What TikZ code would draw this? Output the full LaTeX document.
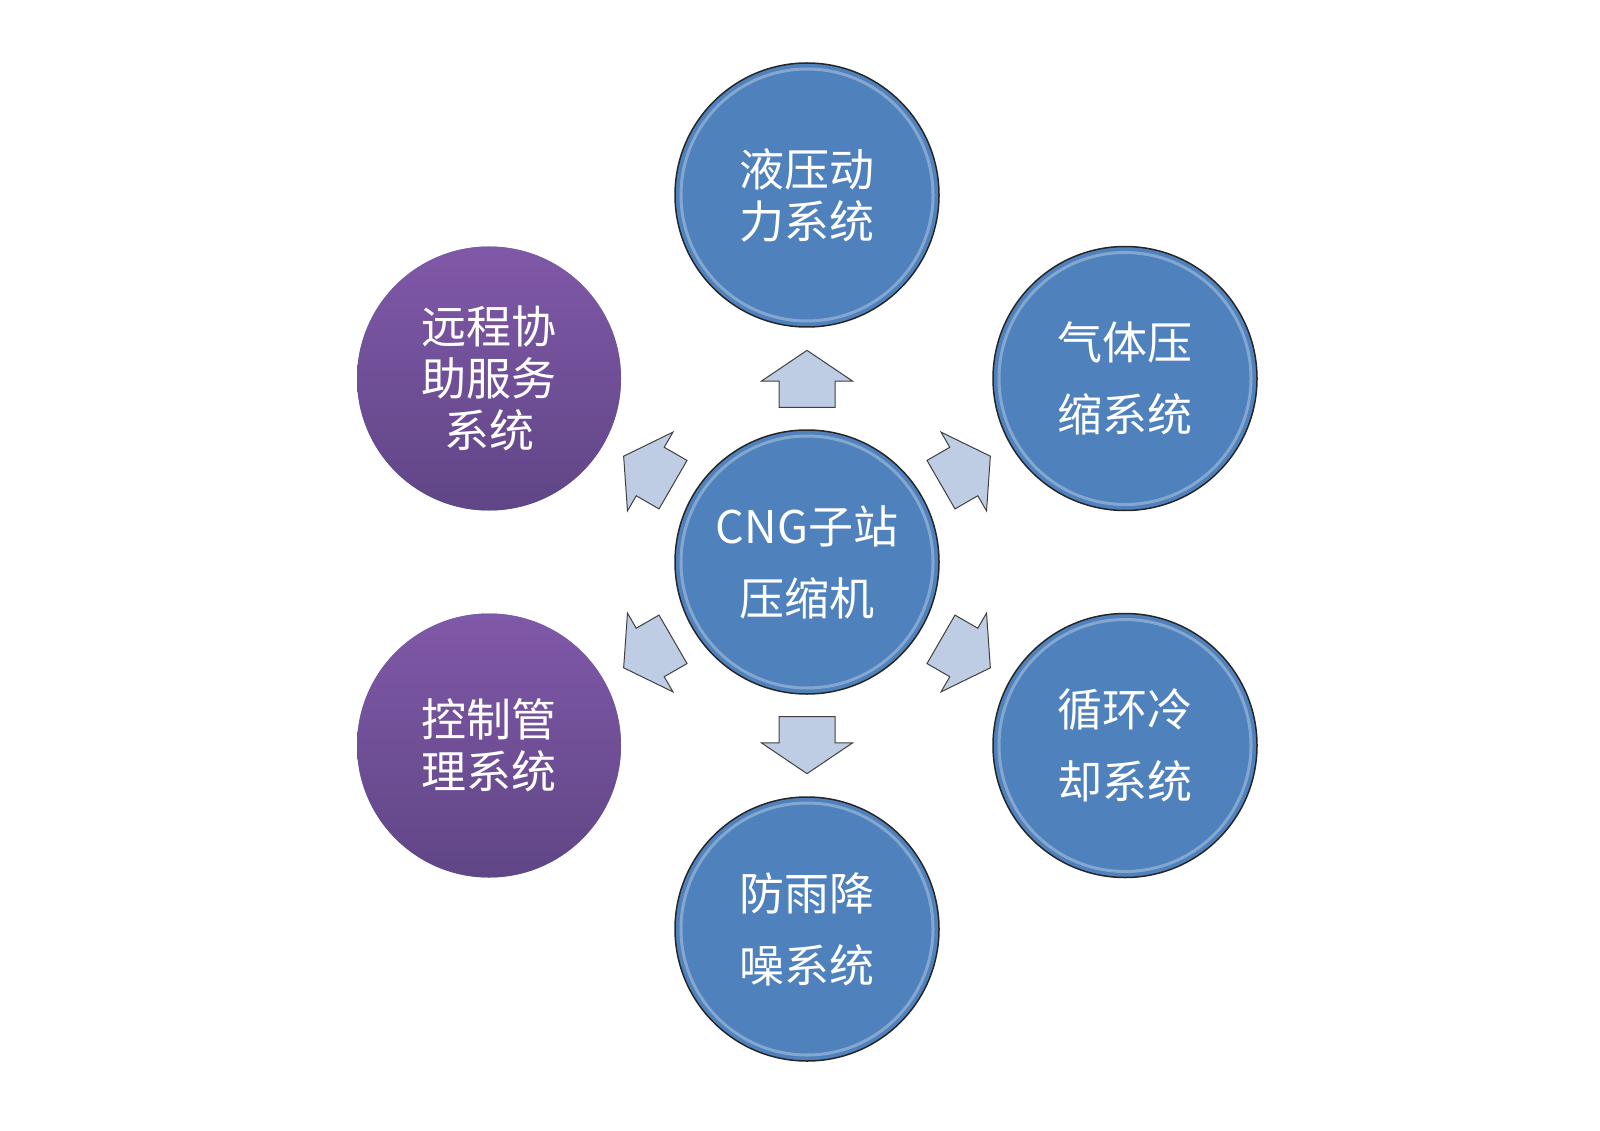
\documentclass[tikz,border=0pt]{standalone}
\usepackage{fontspec}
\newfontfamily\cjk{Noto Sans CJK SC}
\usepackage{tikz}
\usetikzlibrary{shapes.arrows}
\usetikzlibrary{calc}
\usetikzlibrary{positioning}

\definecolor{kugelblau}{RGB}{79,129,189}
\definecolor{lilaoben}{RGB}{128,88,168}
\definecolor{lilaunten}{RGB}{96,70,134}
\definecolor{pfeilblau}{RGB}{190,205,228}

\begin{document}
\begin{tikzpicture}[x=1pt, y=-1pt,
	sys/.style={circle, draw=black!85, line width=1.5pt, fill=kugelblau, minimum size=264pt, inner sep=0pt, text=white, align=center,
		font=\cjk\fontsize{45}{72}\selectfont,
		path picture={\draw[white, opacity=0.3, line width=3pt] (path picture bounding box.center) circle (126pt);}},
	eng/.style={font=\cjk\fontsize{45}{52}\selectfont},
	lila/.style={draw=none, top color=lilaoben, bottom color=lilaunten, path picture={}},
	pfeil/.style={single arrow, draw=black!75, line width=1pt, fill=pfeilblau, minimum height=57pt,
		single arrow head extend=17.5pt, single arrow tip angle=112, inner xsep=0pt, inner ysep=27.5pt, anchor=tail}]
	\useasboundingbox (0,0) rectangle (1600,1131);
	\node[sys] (0) at (807,562) {CNG子站\\压缩机};
	\node[sys, eng] (1) at (807,195) {液压动\\力系统};
	\node[sys] (2) at (1125,378.5) {气体压\\缩系统};
	\node[sys] (3) at (1125,745.5) {循环冷\\却系统};
	\node[sys] (4) at (807,929) {防雨降\\噪系统};
	\node[sys, eng, lila] (5) at (489,745.5) {控制管\\理系统};
	\node[sys, eng, lila] (6) at (489,378.5) {远程协\\助服务\\系统};
	\node[pfeil, rotate=90] (a1) at ($(0)!0.42!(1)$) {};
	\node[pfeil, rotate=30] (a2) at ($(0)!0.42!(2)$) {};
	\node[pfeil, rotate=-30] (a3) at ($(0)!0.42!(3)$) {};
	\node[pfeil, rotate=-90] (a4) at ($(0)!0.42!(4)$) {};
	\node[pfeil, rotate=210] (a5) at ($(0)!0.42!(5)$) {};
	\node[pfeil, rotate=150] (a6) at ($(0)!0.42!(6)$) {};
\end{tikzpicture}
\end{document}
